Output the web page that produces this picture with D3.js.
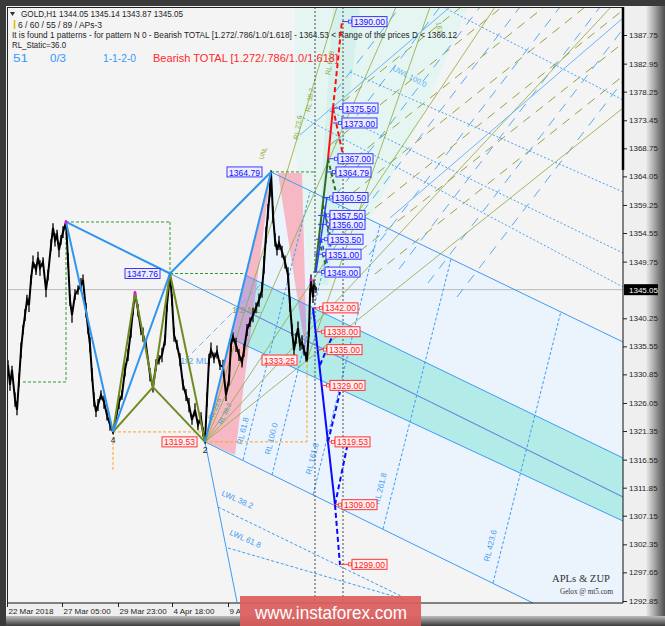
<!DOCTYPE html>
<html>
<head>
<meta charset="utf-8">
<title>GOLD,H1 - ZUP pattern</title>
<script src="https://cdn.jsdelivr.net/npm/d3@7/dist/d3.min.js"></script>
<style>
  body { margin:0; background:#3a3a3a; }
  svg text { font-family: "Liberation Sans", Arial, sans-serif; }
</style>
</head>
<body>
<div id="chart"></div>
<script>
// ---------------- axis ticks ----------------
var priceTicks = [1387.75,1382.95,1378.25,1373.45,1368.75,1364.05,1359.25,1354.55,1349.75,
                  1340.25,1335.55,1330.85,1326.05,1321.35,1316.55,1311.85,1307.15,1302.35,1297.65,1292.85];
var lastPrice = 1345.05;
var timeTicks = [0,55,111,165,221];
var timeLabels = ["22 Mar 2018","27 Mar 05:00","29 Mar 23:00","4 Apr 18:00","9 Apr 12:00"];

// ---------------- H1 price path (bar index, close, half range) ----------------
var priceBar = [1,3,5,8,10,12,14,16,18,20,22,24,26,29,31,33,36,39,41,44,46,48,50,52,54,56,59,61,63,65,
  68,71,74,76,79,81,83,85,87,89,91,94,97,100,103,106,109,112,115,118,121,124,126,128,131,134,136,139,143,146,
  149,152,155,158,160,163,165,167,170,173,176,179,182,185,188,191,194,196,198,200,202,204,207,210,213,216,219,222,224,226,
  229,232,235,237,240,243,246,249,252,255,257,259,261,263,264,266,268,270,272,275,278,281,283,285,287,289,291,293,295,297,
  299,300,302,303,304,306,307,309];
var priceClose = [1332.4,1329.1,1331.6,1326.6,1324.9,1329.9,1334.9,1338.3,1340.8,1343.3,1342.5,1346.7,1349.7,1348.4,1350.4,1348.7,1349.7,1345.0,1347.5,1352.5,
  1355.4,1353.4,1354.2,1351.7,1353.4,1354.7,1356.4,1350.0,1343.3,1340.8,1344.2,1345.0,1345.9,1346.7,1341.6,1338.6,1335.8,1330.8,1326.6,1324.6,
  1325.7,1327.4,1326.2,1324.0,1322.4,1321.2,1323.5,1326.2,1327.4,1331.6,1334.1,1338.3,1341.6,1344.5,1341.6,1338.3,1337.5,1335.8,1330.8,1328.7,
  1332.4,1333.3,1334.1,1336.6,1342.5,1347.76,1343.3,1337.5,1335.8,1333.3,1329.1,1327.4,1325.7,1323.2,1324.9,1322.4,1323.5,1321.2,1319.53,1326.6,
  1333.3,1334.9,1333.6,1334.6,1332.4,1332.1,1327.4,1329.9,1335.8,1337.1,1335.8,1334.1,1332.9,1334.9,1338.3,1339.6,1340.8,1342.0,1343.3,1345.0,
  1349.2,1354.2,1358.1,1361.8,1364.79,1357.6,1353.4,1351.7,1352.9,1351.4,1349.7,1347.5,1342.5,1338.3,1334.9,1336.9,1338.6,1335.8,1336.2,1334.9,
  1333.8,1333.25,1338.3,1344.2,1346.7,1343.8,1345.9,1345.05];
var priceHalfRange = [0.8,1.0,0.7,1.2,0.9,1.1,1.3,0.8,1.0,0.9,1.2,0.8,1.1,0.9,1.0,1.3,0.8,1.2,0.9,1.0,
  0.8,1.1,0.9,1.2,0.8,1.0,0.3,1.2,1.0,1.3,0.9,0.8,1.1,0.9,1.2,1.0,1.3,1.1,1.2,0.9,
  1.0,0.8,1.1,0.9,1.0,0.3,0.9,1.2,0.8,1.1,1.0,1.3,0.9,0.3,1.1,0.9,1.2,0.8,1.1,0.9,
  1.0,0.8,1.2,0.9,1.1,0.3,1.0,1.2,0.8,1.1,0.9,1.0,1.2,0.8,1.1,0.9,1.0,0.8,0.3,1.2,
  1.0,1.3,0.9,1.1,0.8,1.2,1.0,0.9,1.1,0.8,1.2,1.0,0.9,1.1,1.0,0.8,1.2,0.9,1.1,1.3,
  1.5,1.4,1.3,1.2,0.3,1.4,1.1,0.9,1.2,1.0,1.1,1.3,1.2,1.0,1.4,0.9,1.1,1.0,1.2,0.9,
  0.8,0.3,1.2,1.1,0.9,1.0,0.8,0.5];

// ---------------- ZUP pivots ----------------
var P0 = [59,1356.4], P4 = [106,1321.2], PK = [128,1344.5], L1 = [146,1328.7], C = [163,1347.76];
var X = [198,1319.53], A = [264,1364.79], B = [300,1333.25], D0 = [304,1346.7];

var zigBlue  = [[P0,P4],[P0,C],[P4,C],[C,A],[X,A]];
var zigOlive = [[P4,PK],[PK,L1],[P4,L1],[L1,C],[L1,X],[C,X]];

// ---------------- filled zones ----------------
var zoneLightBlue = [A, [616,1336.28], [616,1292.5], [526,1292.5], X];
var zoneCyan  = [[238,1347.51],[616,1316.83],[616,1306.26],[223,1336.94]];
var zonePink1 = [X, A, [228,1317.33]];
var zonePink2 = [[271,1364.61],[295,1364.61],B];
var zoneMint  = [[288,1392.44],[461,1392.44],[413,1373.5],[333,1346.67],[305,1344.99],[288,1368.47]];
var zoneMint2 = [[308,1345.83],[326,1392.44],[353,1392.44],[321,1345.83]];

// ---------------- pitchfork lines ----------------
var forkSolid = [
  [A,[616,1336.28]],
  [[238,1347.51],[616,1316.83]],
  [[223,1336.94],[616,1306.26]],
  [X,[526,1292.51]],
  [X,[230,1292.68]]
];
var forkMedian = [[C,[616,1310.29]]];
var reactionLines = [
  [[236,1316.49],[303,1361.43]],
  [[265,1313.98],[332,1359.08]],
  [[306,1310.62],[373,1355.89]],
  [[376,1304.92],[444,1350.19]],
  [[486,1295.87],[554,1341.47]]
];
var reactionNames = ["RL 61.8","RL 100.0","RL 161.8","RL 261.8","RL 423.6"];
var reactionLabelAt = [[235,1319.0],[263,1317.33],[304,1313.98],[372,1308.95],[482,1299.39]];
var warningLow = [
  [[211,1308.61],[396,1293.52]],
  [[221,1301.74],[403,1292.85]]
];
var warningLowNames = ["LWL 38.2","LWL 61.8"];
var warningLowAt = [[214,1310.6],[222,1304.0]];
var warningUp = [
  [[436,1392.44],[616,1376.85]],
  [[343,1381.55],[616,1361.43]],
  [[323,1375.0],[616,1351.2]],
  [[293,1374.17],[616,1345.5]]
];
var halfMedian = [[[178,1333.26],[255,1346.17]]];

// long dashed fans in the upper zone
var fanBlueDash = [
  [[328,1378.19],[393,1392.44]],[[328,1369.47],[433,1392.44]],[[328,1360.75],[473,1392.44]],
  [[333,1353.21],[513,1392.44]],[[362,1350.86],[553,1392.44]],[[392,1348.51],[593,1392.44]],
  [[421,1346.17],[616,1388.76]],[[450,1343.82],[616,1380.04]]
];
var fanOliveDash = [
  [[323,1374.84],[454,1392.44]],[[323,1369.31],[495,1392.44]],[[323,1363.77],[537,1392.44]],
  [[333,1359.58],[578,1392.44]],[[343,1355.39],[616,1391.94]],[[353,1351.53],[616,1386.41]],
  [[368,1347.68],[616,1380.88]]
];
var fanOliveSolid = [
  [X,[616,1375.51]],[X,[604,1392.44]],[X,[488,1392.44]],[X,[389,1392.44]],[X,[330,1392.44]],
  [B,[423,1392.44]]
];
var fanLightBlue = [
  [[293,1370.98],[443,1392.44]],
  [[383,1357.07],[616,1390.6]]
];

// ---------------- boxes drawn by ZUP ----------------
var greenBox = [
  [P0,[163,1356.4]],[[163,1356.4],C],[P0,[59,1329.57]],[[59,1329.57],[15,1329.57]],
  [C,[240,1347.76]],[A,[308,1364.79]]
];
var orangeBox = [
  [P4,[198,1321.2]],[X,[300,1319.53]],[B,[300,1319.53]],[P4,[106,1314.81]]
];
var timeMarks = [308,336];

// ---------------- projections ----------------
var projBlueSolid  = [[[306,1341.97],[328,1308.95]]];
var projBlueDash   = [[[328,1308.95],[333,1298.89]],[[313,1332.42],[328,1338.29]],
                      [[321,1319.51],[333,1327.89]],[[328,1308.95],[340,1318.67]]];
var projRedSolid   = [[[321,1366.96],[326,1375.51]]];
var projRedDash    = [[[326,1375.51],[335,1390.1]],[[326,1375.51],[336,1367.63]]];
var projGreenSolid = [[[308,1348.01],[321,1366.96]]];
var projGreenDash  = [[[321,1366.96],[330,1360.59]],[[316,1359.25],[324,1353.38]],[[312,1353.38],[320,1348.35]]];
var projBlue2Solid = [[[309,1348.01],[320,1360.59]]];
var projBlue2Dash  = [[[318,1357.57],[325,1351.03]],[[314,1353.55],[322,1348.35]]];

var upTargets     = [1390.00,1375.50,1373.00,1367.00,1364.79,1360.50,1357.50,1356.00,1353.50,1351.00,1348.00];
var upTargetBar   = [345,336,335,331,329,326,323,323,321,319,318];
var upTargetFrom  = [335,326,326,321,319,315,311,311,309,307,306];
var downTargets    = [1342.00,1338.00,1335.00,1329.00,1319.53,1309.00,1299.00];
var downTargetBar  = [316,318,320,323,328,335,345];
var downTargetFrom = [306,309,311,315,321,327,333];

var pivotLabels = [
  {text:"1347.76", bar:118, price:1347.76, kind:"up"},
  {text:"1364.79", bar:220, price:1364.79, kind:"up"},
  {text:"1319.53", bar:155, price:1319.53, kind:"down"},
  {text:"1333.25", bar:255, price:1333.25, kind:"down"}
];

var statusParts = [
  {t:"51", x:13, w:15, c:"#3399ff"},
  {t:"0/3", x:50, w:16, c:"#3399ff"},
  {t:"1-1-2-0", x:103, w:33, c:"#3399ff"},
  {t:"Bearish TOTAL [1.272/.786/1.0/1.618]", x:153, w:185, c:"#ff2a2a"}
];

// ---------------- scales ----------------
var W = 665, H = 626;
var x = d3.scaleLinear().domain([0,616]).range([7,623]);
var y = d3.scaleLinear().domain([1292.85,1387.75]).range([601,35]);

var svg = d3.select("#chart").append("svg").attr("width",W).attr("height",H);
var defs = svg.append("defs");
defs.append("clipPath").attr("id","plotClip").append("rect")
  .attr("x",7).attr("y",7).attr("width",616).attr("height",596);
defs.append("clipPath").attr("id","timeClip").append("rect")
  .attr("x",0).attr("y",595).attr("width",240).attr("height",31);
function pts(list){ return list.map(function(d){ return x(d[0])+","+y(d[1]); }).join(" "); }
defs.append("clipPath").attr("id","cyanClip").append("polygon").attr("points",pts(zoneCyan));

var gr = defs.append("linearGradient").attr("id","rightShade").attr("x1","0").attr("x2","1").attr("y1","0").attr("y2","0");
gr.append("stop").attr("offset","0").attr("stop-color","#ececec");
gr.append("stop").attr("offset","1").attr("stop-color","#4e4e4e");
var gb = defs.append("linearGradient").attr("id","bottomShade").attr("x1","0").attr("x2","0").attr("y1","0").attr("y2","1");
gb.append("stop").attr("offset","0").attr("stop-color","#bdbdbd");
gb.append("stop").attr("offset","1").attr("stop-color","#3a3a3a");

// frame
svg.append("rect").attr("width",W).attr("height",H).attr("fill","#efefef");
svg.append("rect").attr("x",646).attr("y",0).attr("width",19).attr("height",H).attr("fill","url(#rightShade)");
svg.append("rect").attr("x",0).attr("y",616).attr("width",W).attr("height",10).attr("fill","url(#bottomShade)");
svg.append("rect").attr("x",0).attr("y",0).attr("width",W).attr("height",6).attr("fill","#3a3a3a");
svg.append("rect").attr("x",0).attr("y",0).attr("width",6).attr("height",H).attr("fill","#3a3a3a");
svg.append("rect").attr("x",7).attr("y",7).attr("width",616).attr("height",596).attr("fill","#f4f4f4");

var g = svg.append("g").attr("clip-path","url(#plotClip)");

function poly(data, fill, extra){
  var p = g.append("polygon").attr("points",pts(data)).attr("fill",fill);
  if (extra) p.attr("clip-path",extra);
  return p;
}
function segs(data, stroke, width, dash, clip){
  var s = g.append("g");
  if (clip) s.attr("clip-path",clip);
  s.selectAll("line").data(data).enter().append("line")
    .attr("x1",function(d){ return x(d[0][0]); }).attr("y1",function(d){ return y(d[0][1]); })
    .attr("x2",function(d){ return x(d[1][0]); }).attr("y2",function(d){ return y(d[1][1]); })
    .attr("stroke",stroke).attr("stroke-width",width)
    .attr("stroke-dasharray",dash || null);
}
function rotText(at, str, angle, color, size){
  g.append("text").attr("transform","translate("+x(at[0])+","+y(at[1])+") rotate("+angle+")")
    .attr("font-size",size).attr("fill",color).text(str);
}

// fills
poly(zoneLightBlue,"#ebf4fd");
poly(zoneMint,"#e5f6f2");
poly(zoneMint2,"#d6f0eb");
poly(zonePink1,"#f6b8c4");
poly(zonePink2,"#f6b8c4");
poly(zoneCyan,"#b3ebe8");
poly(zonePink1,"#c7a8d8","url(#cyanClip)");
poly(zonePink2,"#c7a8d8","url(#cyanClip)");

// last price line
g.append("line").attr("x1",7).attr("x2",623).attr("y1",y(lastPrice)).attr("y2",y(lastPrice))
  .attr("stroke","#b9b9b9").attr("stroke-width",1);

// fans and warning lines
segs(fanOliveDash,"#93a441",1,"9,7");
segs(fanBlueDash,"#5aaaf2",1,"10,8");
segs(warningUp,"#4aa0f5",1,"2,2");
segs(fanOliveSolid,"#8fa83c",0.8);
segs(fanLightBlue,"#6cb6f7",1);

// pitchfork
segs(forkSolid,"#3d9bf5",1);
segs(forkMedian,"#3d9bf5",1);
segs(forkMedian,"#7f8fd8",1,null,"url(#cyanClip)");
segs(reactionLines,"#3d9bf5",1,"3,2");
segs(warningLow,"#3d9bf5",1,"3,2");
segs(halfMedian,"#6cb6f7",1,"6,4");

reactionNames.forEach(function(s,i){ rotText(reactionLabelAt[i], s, -76, "#3d9bf5", 8); });
warningLowNames.forEach(function(s,i){ rotText(warningLowAt[i], s, 24, "#3d9bf5", 8); });
rotText([173,1332.6],"1/2 ML",0,"#5aaaf2",9.5);
rotText([225,1341.1],"1/2 ML",0,"#9aa24a",9.5);
rotText([256,1366.8],"UNL",-70,"#8fa83c",6.5);
rotText([323,1381.0],"RL 61.8",-80,"#8fa83c",7);
rotText([303,1374.8],"RL 38.2",-80,"#8fa83c",7);
rotText([291,1370.2],"RL 23.6",-80,"#8fa83c",7);
rotText([385,1381.9],"UWL 100.0",28,"#5aaaf2",7.5);
rotText([429,1389.9],"161",80,"#8fa83c",7);
rotText([205,1323.2],"RL 23.6",-65,"#3fa3a3",6.5);
rotText([215,1322.4],"RL 38.2",-65,"#3fa3a3",6.5);

// info text block
var info = g.append("g").attr("fill","#1e1e1e").attr("font-size",8.5);
info.append("polygon").attr("points","10,12 15,12 12.5,16").attr("fill","#333");
info.append("text").attr("x",21).attr("y",17).attr("textLength",162).attr("lengthAdjust","spacingAndGlyphs")
  .text("GOLD,H1  1344.05 1345.14 1343.87 1345.05");
info.append("line").attr("x1",14.5).attr("x2",14.5).attr("y1",20).attr("y2",29).attr("stroke","#d8c200").attr("stroke-width",1.5);
info.append("text").attr("x",18).attr("y",28).attr("textLength",84).attr("lengthAdjust","spacingAndGlyphs")
  .text("6 / 60 / 55 / 89 / APs-3");
info.append("text").attr("x",12).attr("y",38).attr("textLength",445).attr("lengthAdjust","spacingAndGlyphs")
  .text("It is found 1 patterns  -  for pattern N 0 - Bearish TOTAL [1.272/.786/1.0/1.618] - 1364.53 < Range of the prices D < 1366.12");
info.append("text").attr("x",12).attr("y",48).attr("textLength",54).attr("lengthAdjust","spacingAndGlyphs")
  .text("RL_Static=36.0");
statusParts.forEach(function(s){
  info.append("text").attr("x",s.x).attr("y",62).attr("font-size",11).attr("fill",s.c)
    .attr("textLength",s.w).attr("lengthAdjust","spacingAndGlyphs").text(s.t);
});

// ZUP boxes
segs(greenBox,"#2f9a2f",1,"3,2");
segs(orangeBox,"#ffa31a",1,"3,2");

// price: close path plus each bar's high-low range
var line = d3.line().x(function(d,i){ return x(priceBar[i]); }).y(function(d){ return y(d); });
g.append("path").datum(priceClose).attr("d",line).attr("fill","none")
  .attr("stroke","#000").attr("stroke-width",2).attr("stroke-linejoin","miter");
g.append("g").selectAll("line").data(priceClose).enter().append("line")
  .attr("x1",function(d,i){ return x(priceBar[i]); }).attr("x2",function(d,i){ return x(priceBar[i]); })
  .attr("y1",function(d,i){ return y(d + priceHalfRange[i]); })
  .attr("y2",function(d,i){ return y(d - priceHalfRange[i]); })
  .attr("stroke","#000").attr("stroke-width",1.3);

// zigzags
segs(zigOlive,"#6f8a22",2);
segs(zigBlue,"#2e95f0",2);

// vertical time markers
g.append("g").selectAll("line").data(timeMarks).enter().append("line")
  .attr("x1",function(d){ return x(d); }).attr("x2",function(d){ return x(d); })
  .attr("y1",7).attr("y2",603).attr("stroke","#4a4a4a").attr("stroke-dasharray","2,2");

// projections
segs(projGreenSolid,"#2f6a1e",2);
segs(projGreenDash,"#2f6a1e",2,"4,3");
segs(projBlue2Solid,"#2040ff",1.5);
segs(projBlue2Dash,"#2040ff",1.5,"4,3");
segs(projRedSolid,"#ff1010",2);
segs(projRedDash,"#ff1010",2,"5,3");
segs(projBlueSolid,"#0a0aff",2);
segs(projBlueDash,"#0a0aff",2,"5,3");

// magenta pivot dots
g.append("g").selectAll("circle").data([P0,PK,D0]).enter().append("circle")
  .attr("cx",function(d){ return x(d[0]); }).attr("cy",function(d){ return y(d[1]); })
  .attr("r",1.6).attr("fill","#ff00ff");

// price labels
var styles = {
  up:   {txt:"#1010ff", line:"#3a3aff", bg:"#ededff"},
  down: {txt:"#ff1a1a", line:"#ff3434", bg:"#fff1f1"}
};
function priceBox(bar, price, from, kind, str){
  var s = styles[kind], bx = x(bar), by = y(price);
  if (from !== null) {
    g.append("line").attr("x1",x(from)).attr("x2",bx).attr("y1",by).attr("y2",by)
      .attr("stroke",s.line).attr("stroke-width",1);
    g.append("rect").attr("x",bx-3.5).attr("y",by-1.5).attr("width",3).attr("height",3)
      .attr("fill",s.bg).attr("stroke",s.line).attr("stroke-width",0.8);
  }
  g.append("rect").attr("x",bx).attr("y",by-5).attr("width",35).attr("height",10)
    .attr("fill",s.bg).attr("stroke",s.line).attr("stroke-width",1);
  g.append("text").attr("x",bx+2).attr("y",by+3.6).attr("font-size",9).attr("fill",s.txt)
    .attr("textLength",31).attr("lengthAdjust","spacingAndGlyphs").text(str);
}
upTargets.forEach(function(p,i){ priceBox(upTargetBar[i], p, upTargetFrom[i], "up", d3.format(".2f")(p)); });
downTargets.forEach(function(p,i){ priceBox(downTargetBar[i], p, downTargetFrom[i], "down", d3.format(".2f")(p)); });
pivotLabels.forEach(function(d){ priceBox(d.bar, d.price, null, d.kind, d.text); });

// pivot numbers
g.append("text").attr("x",x(P4[0])).attr("y",y(P4[1])+11).attr("text-anchor","middle").attr("font-size",8.5).attr("fill","#222").text("4");
g.append("text").attr("x",x(X[0])).attr("y",y(X[1])+11).attr("text-anchor","middle").attr("font-size",8.5).attr("fill","#222").text("2");

// credits
g.append("text").attr("x",552).attr("y",582).attr("font-size",11).attr("fill","#333")
  .style("font-family","'Liberation Serif', serif").attr("textLength",58).attr("lengthAdjust","spacingAndGlyphs").text("APLs & ZUP");
g.append("text").attr("x",560).attr("y",594).attr("font-size",7.5).attr("fill","#333")
  .style("font-family","'Liberation Serif', serif").attr("textLength",53).attr("lengthAdjust","spacingAndGlyphs").text("Gelox @ mt5.com");

// ---------------- axes ----------------
var ya = svg.append("g").attr("transform","translate(623,0)")
  .call(d3.axisRight(y).tickValues(priceTicks).tickSize(4).tickPadding(2).tickFormat(d3.format(".2f")));
ya.select(".domain").remove();
ya.attr("font-size",8);
ya.selectAll("text").attr("fill","#1e1e1e");
ya.selectAll("line").attr("stroke","#222");

// time axis is hidden by the watermark from x=240 on
var xaWrap = svg.append("g").attr("clip-path","url(#timeClip)");
var xa = xaWrap.append("g").attr("transform","translate(0,603)")
  .call(d3.axisBottom(x).tickValues(timeTicks).tickSize(4).tickFormat(function(d,i){ return timeLabels[i]; }));
xa.select(".domain").remove();
xa.attr("font-size",8);
xa.selectAll("text").attr("text-anchor","start").attr("x",1).attr("y",5).attr("fill","#1e1e1e");
xa.selectAll("line").attr("stroke","#222");

// plot border
svg.append("line").attr("x1",623).attr("x2",623).attr("y1",7).attr("y2",603).attr("stroke","#111");
svg.append("line").attr("x1",7).attr("x2",623).attr("y1",603).attr("y2",603).attr("stroke","#111");
svg.append("line").attr("x1",7).attr("x2",623).attr("y1",7.5).attr("y2",7.5).attr("stroke","#222");
svg.append("line").attr("x1",7.5).attr("x2",7.5).attr("y1",7).attr("y2",603).attr("stroke","#222");
svg.append("line").attr("x1",623).attr("x2",623).attr("y1",7).attr("y2",170).attr("stroke","#000").attr("stroke-width",2.5);

// last price tag
svg.append("rect").attr("x",624).attr("y",y(lastPrice)-5.5).attr("width",34).attr("height",11).attr("fill","#000");
svg.append("text").attr("x",629).attr("y",y(lastPrice)+3).attr("font-size",8).attr("fill","#fff").text(d3.format(".2f")(lastPrice));

// watermark
svg.append("rect").attr("x",240).attr("y",596).attr("width",181).attr("height",30).attr("fill","#dc5e5e").attr("opacity",0.93);
svg.append("text").attr("x",255).attr("y",619).attr("font-size",18).attr("fill","#fff")
  .attr("textLength",152).attr("lengthAdjust","spacingAndGlyphs").text("www.instaforex.com");
</script>
</body>
</html>
